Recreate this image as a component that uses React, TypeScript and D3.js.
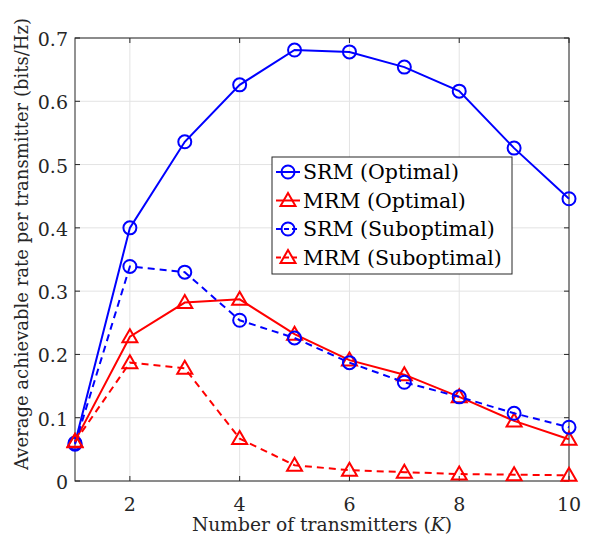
import React from "react";
import * as d3 from "d3";

const K = [1, 2, 3, 4, 5, 6, 7, 8, 9, 10];
const srmOpt = [0.06, 0.4, 0.536, 0.626, 0.681, 0.678, 0.654, 0.616, 0.526, 0.446];
const mrmOpt = [0.063, 0.228, 0.282, 0.287, 0.232, 0.191, 0.168, 0.133, 0.095, 0.066];
const srmSub = [0.058, 0.339, 0.33, 0.254, 0.226, 0.187, 0.156, 0.133, 0.107, 0.085];
const mrmSub = [0.062, 0.187, 0.178, 0.067, 0.025, 0.017, 0.014, 0.011, 0.01, 0.009];
const xTicks = [2, 4, 6, 8, 10];
const yTicks = [0, 0.1, 0.2, 0.3, 0.4, 0.5, 0.6, 0.7];
const seriesNames = ["SRM (Optimal)", "MRM (Optimal)", "SRM (Suboptimal)", "MRM (Suboptimal)"];

const W = 612, H = 541;
const L = 75, R = 569, T = 38, B = 481;
const FONT = "'DejaVu Serif', serif";

export default function App() {
  const x = d3.scaleLinear().domain([1, 10]).range([L, R]);
  const y = d3.scaleLinear().domain([0, 0.7]).range([B, T]);
  const line = d3.line<number>().x((_, i) => x(K[i])).y((d) => y(d));
  const series = [
    { data: srmOpt, color: "#0000ff", dash: "", marker: "o" },
    { data: mrmOpt, color: "#ff0000", dash: "", marker: "t" },
    { data: srmSub, color: "#0000ff", dash: "7,5", marker: "o" },
    { data: mrmSub, color: "#ff0000", dash: "7,5", marker: "t" },
  ];
  const marker = (m: string, cx: number, cy: number, c: string, key: any) =>
    m === "o" ? (
      <circle key={key} cx={cx} cy={cy} r={6.5} fill="none" stroke={c} strokeWidth={2} />
    ) : (
      <path key={key} d={`M${cx},${cy - 7.5}L${cx + 7.5},${cy + 5.5}L${cx - 7.5},${cy + 5.5}Z`} fill="none" stroke={c} strokeWidth={2} />
    );
  const axisColor = "#262626";
  const legX = 272, legY = 157, legW = 240, legH = 117;
  const ts = { fontFamily: FONT };
  return (
    <svg width={W} height={H} style={{ position: "absolute", left: 0, top: 0, fontFamily: FONT }}>
      <rect x={0} y={0} width={W} height={H} fill="#fff" />
      {xTicks.map((t) => (
        <line key={"gx" + t} x1={x(t)} x2={x(t)} y1={T} y2={B} stroke="#e3e3e3" strokeWidth={1} />
      ))}
      {yTicks.map((t) => (
        <line key={"gy" + t} x1={L} x2={R} y1={y(t)} y2={y(t)} stroke="#e3e3e3" strokeWidth={1} />
      ))}
      <rect x={L} y={T} width={R - L} height={B - T} fill="none" stroke={axisColor} strokeWidth={1} />
      {xTicks.map((t) => (
        <g key={"tx" + t}>
          <line x1={x(t)} x2={x(t)} y1={B} y2={B - 5} stroke={axisColor} />
          <line x1={x(t)} x2={x(t)} y1={T} y2={T + 5} stroke={axisColor} />
          <text x={x(t)} y={511} textAnchor="middle" fontSize={19} fill="#262626" style={ts}>{t}</text>
        </g>
      ))}
      {yTicks.map((t) => (
        <g key={"ty" + t}>
          <line x1={L} x2={L + 5} y1={y(t)} y2={y(t)} stroke={axisColor} />
          <line x1={R} x2={R - 5} y1={y(t)} y2={y(t)} stroke={axisColor} />
          <text x={68} y={y(t) + 8} textAnchor="end" fontSize={19} fill="#262626" style={ts}>{t === 0 ? "0" : t.toFixed(1)}</text>
        </g>
      ))}
      <text x={322} y={531} textAnchor="middle" fontSize={18.7} fill="#262626" style={ts}>
        Number of transmitters (<tspan fontStyle="italic">K</tspan>)
      </text>
      <text transform={`translate(28,244) rotate(-90)`} textAnchor="middle" fontSize={18.5} fill="#262626" style={ts} textLength={452} lengthAdjust="spacingAndGlyphs">
        Average achievable rate per transmitter (bits/Hz)
      </text>
      {series.map((s, si) => (
        <g key={"s" + si}>
          <path d={line(s.data) || ""} fill="none" stroke={s.color} strokeWidth={2} strokeDasharray={s.dash} />
          {s.data.map((d, i) => marker(s.marker, x(K[i]), y(d), s.color, i))}
        </g>
      ))}
      <rect x={legX} y={legY} width={legW} height={legH} fill="#fff" stroke={axisColor} strokeWidth={1} />
      {series.map((s, i) => {
        const ly = legY + 15 + i * 28.5;
        return (
          <g key={"l" + i}>
            <line x1={legX + 4} x2={legX + 28} y1={ly} y2={ly} stroke={s.color} strokeWidth={2} strokeDasharray={s.dash ? "5,3" : ""} />
            {marker(s.marker, legX + 16, ly, s.color, "m")}
            <text x={legX + 31} y={ly + 7} fontSize={20.5} fill="#000" style={ts}>{seriesNames[i]}</text>
          </g>
        );
      })}
    </svg>
  );
}
